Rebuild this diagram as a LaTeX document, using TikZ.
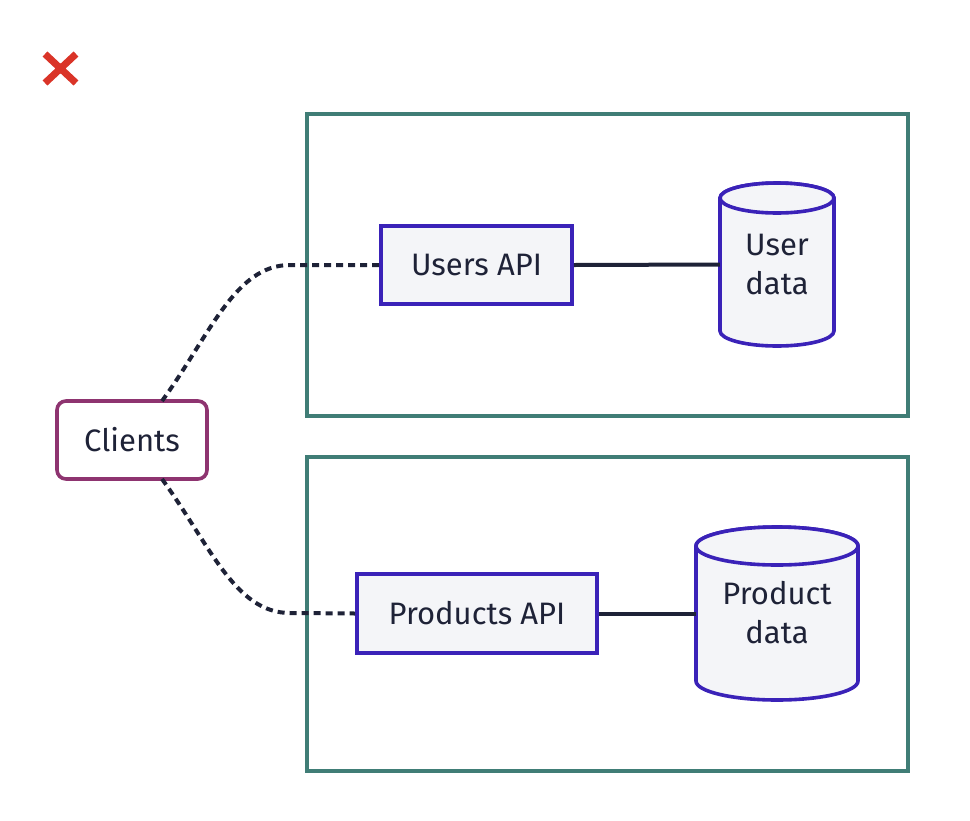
\documentclass[tikz,border=0pt]{standalone}
\usepackage{fontspec}
\setmainfont{Fira Sans}
\definecolor{tealb}{RGB}{64,125,118}
\definecolor{purb}{RGB}{58,34,184}
\definecolor{clib}{RGB}{142,52,112}
\definecolor{darkl}{RGB}{30,34,55}
\definecolor{fillg}{RGB}{244,245,248}
\definecolor{redx}{RGB}{218,52,40}
\begin{document}
\begin{tikzpicture}[x=1pt,y=-1pt,
  txt/.style={font=\fontsize{31}{38}\selectfont, text=darkl, align=center},
  group/.style={draw=tealb, line width=3.6pt},
  apibox/.style={txt, draw=purb, fill=fillg, line width=3.6pt, inner sep=0pt},
  clibox/.style={txt, draw=clib, fill=white, line width=3.6pt, rounded corners=9pt, inner sep=0pt},
  solidc/.style={draw=darkl, line width=4pt},
  dotc/.style={draw=darkl, line width=4pt, dash pattern=on 7pt off 5pt},
  cylb/.style={draw=purb, fill=fillg, line width=3.6pt},
  ghost/.style={inner sep=0pt}]
\useasboundingbox (0,0) rectangle (970,820);
% red cross
\draw[redx, line width=7pt] (45,54) -- (76,83) (76,54) -- (45,83);
% groups
\draw[group] (307,114) rectangle (908,416);
\draw[group] (307,457) rectangle (908,771);
% user data cylinder
\node[ghost, minimum width=114pt, minimum height=163pt] (udata) at (777,264.5) {};
\draw[cylb] (720,198) -- (720,331) arc[start angle=180, end angle=0, x radius=57, y radius=15] -- (834,198) arc[start angle=0, end angle=-180, x radius=57, y radius=15] -- cycle;
\draw[cylb] (777,198) ellipse[x radius=57, y radius=15];
\node[txt] at (777,264) {User\\[1pt]data};
% product data cylinder
\node[ghost, minimum width=162pt, minimum height=173pt] (pdata) at (777,613.5) {};
\draw[cylb] (696,546) -- (696,681) arc[start angle=180, end angle=0, x radius=81, y radius=19] -- (858,546) arc[start angle=0, end angle=-180, x radius=81, y radius=19] -- cycle;
\draw[cylb] (777,546) ellipse[x radius=81, y radius=19];
\node[txt] at (777,613) {Product\\[1pt]data};
% API boxes
\node[apibox, minimum width=191pt, minimum height=78pt] (uapi) at (476.5,265) {Users API};
\node[apibox, minimum width=240pt, minimum height=79pt] (papi) at (477,613.5) {Products API};
% clients
\node[clibox, minimum width=150pt, minimum height=78pt] (cli) at (132,440) {Clients};
\coordinate (cu) at (162,401);
\coordinate (cd) at (162,479);
% connectors
\draw[solidc] (uapi.east) -- (udata.west);
\draw[solidc] (papi.east) -- (pdata.west);
\draw[dotc] (cu) .. controls (210,335) and (235,265) .. (290,265) -- (uapi.west);
\draw[dotc] (cd) .. controls (210,545) and (235,613) .. (290,613) -- (papi.west);
\end{tikzpicture}
\end{document}
